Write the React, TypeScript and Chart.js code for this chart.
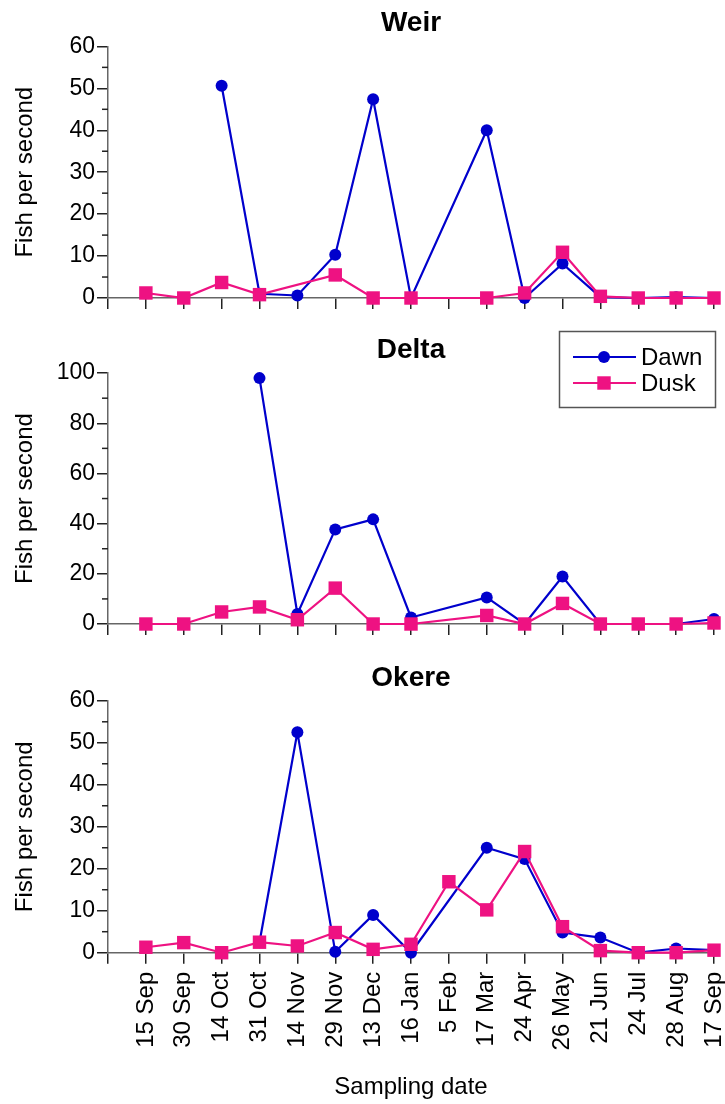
import { useEffect, useRef } from "react";
import { Chart, registerables } from "chart.js";

Chart.register(...registerables);

// Sampling dates shared by all three sites (x axis categories)
const samplingDates = [
  "15 Sep", "30 Sep", "14 Oct", "31 Oct", "14 Nov", "29 Nov", "13 Dec", "16 Jan",
  "5 Feb", "17 Mar", "24 Apr", "26 May", "21 Jun", "24 Jul", "28 Aug", "17 Sep",
];

// Fish per second, one value per sampling date (null = not sampled)
const weirDawn = [null, null, 50.6, 1.0, 0.6, 10.3, 47.4, 0, null, 40.0, 0, 8.2, 0.2, 0, 0.2, 0];
const weirDusk = [1.2, 0, 3.7, 0.8, null, 5.5, 0, 0, null, 0, 1.2, 10.9, 0.4, 0, 0, 0];

const deltaDawn = [null, null, null, 98, 4.0, 37.7, 41.7, 2.6, null, 10.6, 0, 18.9, 0, 0, 0, 2.0];
const deltaDusk = [0, 0, 4.8, 6.8, 1.7, 14.3, 0, 0, null, 3.4, 0, 8.2, 0, 0, 0, 0.4];

const okereDawn = [null, null, null, 2.5, 52.5, 0.2, 9.0, 0, null, 25.0, 22.3, 4.8, 3.6, 0, 1.0, 0.6];
const okereDusk = [1.3, 2.4, 0, 2.5, 1.6, 4.8, 0.8, 2.0, 16.9, 10.2, 24.1, 6.2, 0.5, 0, 0, 0.6];

const FONT = "'Liberation Sans', Arial, Helvetica, sans-serif";
const DAWN_COLOR = "#0000CC";
const DUSK_COLOR = "#EE1282";
const AXIS_COLOR = "#666666";
const TICK_COLOR = "#222222";
const CIRCLE_RADIUS = 6;
const SQUARE_RADIUS = 9.5;
const LINE_WIDTH = 2.2;

const toPoints = (vals: (number | null)[]) => vals.map((v, i) => ({ x: i, y: v }));

// Short unlabelled ticks between the labelled ones on the y axis
const minorTicksPlugin = {
  id: "minorTicks",
  afterDraw(chart: any, _args: any, opts: any) {
    const y = chart.scales.y;
    const ctx = chart.ctx;
    ctx.save();
    ctx.strokeStyle = TICK_COLOR;
    ctx.lineWidth = 1.5;
    for (let v = opts.step; v < y.max; v += opts.step) {
      if (Math.abs(v / opts.major - Math.round(v / opts.major)) < 1e-6) continue;
      const py = y.getPixelForValue(v);
      ctx.beginPath();
      ctx.moveTo(y.right - 6, py);
      ctx.lineTo(y.right, py);
      ctx.stroke();
    }
    ctx.restore();
  },
};

// Boxed series key
const seriesKeyPlugin = {
  id: "seriesKey",
  afterDraw(chart: any, _args: any, opts: any) {
    if (!opts || !opts.show) return;
    const ctx = chart.ctx;
    ctx.save();
    ctx.strokeStyle = "#555555";
    ctx.lineWidth = 1.5;
    ctx.strokeRect(559.5, 11.5, 156, 76);
    const rows = [
      { label: "Dawn", color: DAWN_COLOR, style: "circle", radius: CIRCLE_RADIUS, y: 37 },
      { label: "Dusk", color: DUSK_COLOR, style: "rect", radius: SQUARE_RADIUS, y: 63 },
    ];
    for (const r of rows) {
      ctx.strokeStyle = r.color;
      ctx.lineWidth = LINE_WIDTH;
      ctx.beginPath();
      ctx.moveTo(573, r.y);
      ctx.lineTo(636, r.y);
      ctx.stroke();
      ctx.fillStyle = r.color;
      ctx.beginPath();
      if (r.style === "circle") {
        ctx.arc(604, r.y, r.radius, 0, Math.PI * 2);
      } else {
        const s = r.radius * Math.SQRT1_2;
        ctx.rect(604 - s, r.y - s, 2 * s, 2 * s);
      }
      ctx.fill();
      ctx.fillStyle = "#000";
      ctx.font = `24px ${FONT}`;
      ctx.textBaseline = "middle";
      ctx.textAlign = "left";
      ctx.fillText(r.label, 641, r.y + 1);
    }
    ctx.restore();
  },
};

type PanelProps = {
  title: string;
  dawn: (number | null)[];
  dusk: (number | null)[];
  yMax: number;
  yStep: number;
  yMinor: number;
  top: number;
  height: number;
  titleTop: number;
  xHeight: number;
  showDates?: boolean;
  showKey?: boolean;
};

function Panel(p: PanelProps) {
  const ref = useRef<HTMLCanvasElement | null>(null);

  useEffect(() => {
    if (!ref.current) return;
    const chart = new Chart(ref.current, {
      type: "line",
      data: {
        datasets: [
          {
            label: "Dawn",
            data: toPoints(p.dawn) as any,
            borderColor: DAWN_COLOR,
            backgroundColor: DAWN_COLOR,
            borderWidth: LINE_WIDTH,
            pointStyle: "circle",
            pointRadius: CIRCLE_RADIUS,
            pointBorderWidth: 0,
            spanGaps: true,
            tension: 0,
            order: 1,
            clip: false as any,
          },
          {
            label: "Dusk",
            data: toPoints(p.dusk) as any,
            borderColor: DUSK_COLOR,
            backgroundColor: DUSK_COLOR,
            borderWidth: LINE_WIDTH,
            pointStyle: "rect",
            pointRadius: SQUARE_RADIUS,
            pointBorderWidth: 0,
            spanGaps: true,
            tension: 0,
            order: 0,
            clip: false as any,
          },
        ],
      },
      options: {
        animation: false,
        responsive: false,
        events: [],
        layout: { padding: { top: p.titleTop, right: 11, bottom: 0, left: 0 } },
        plugins: {
          legend: { display: false },
          tooltip: { enabled: false },
          title: {
            display: true,
            text: p.title,
            fullSize: false,
            color: "#000",
            font: { family: FONT, size: 28, weight: "bold" },
            padding: { top: 0, bottom: 6 },
          },
          minorTicks: { step: p.yMinor, major: p.yStep },
          seriesKey: { show: !!p.showKey },
        } as any,
        scales: {
          x: {
            type: "linear",
            min: -1,
            max: 15,
            ticks: {
              stepSize: 1,
              autoSkip: false,
              display: !!p.showDates,
              minRotation: 90,
              maxRotation: 90,
              padding: 8,
              color: "#000",
              font: { family: FONT, size: 24 },
              callback: (v: any) => samplingDates[v as number] ?? "",
            },
            grid: { drawOnChartArea: false, drawTicks: true, tickLength: 11, color: TICK_COLOR, lineWidth: 1.5 },
            border: { color: AXIS_COLOR, width: 1.5 },
            title: {
              display: !!p.showDates,
              text: "Sampling date",
              color: "#000",
              font: { family: FONT, size: 24 },
              padding: { top: 0, bottom: 2 },
            },
            afterFit: (s: any) => {
              s.height = p.xHeight;
              s.paddingLeft = 0;
              s.paddingRight = 0;
            },
          },
          y: {
            min: 0,
            max: p.yMax,
            ticks: {
              stepSize: p.yStep,
              padding: 2,
              color: "#000",
              font: { family: FONT, size: 23 },
            },
            grid: { drawOnChartArea: false, drawTicks: true, tickLength: 11, color: TICK_COLOR, lineWidth: 1.5 },
            border: { color: AXIS_COLOR, width: 1.5 },
            title: {
              display: true,
              text: "Fish per second",
              color: "#000",
              font: { family: FONT, size: 24 },
              padding: { top: 11, bottom: 0 },
            },
            afterFit: (s: any) => {
              s.width = 108;
              s.paddingTop = 0;
              s.paddingBottom = 0;
            },
          },
        },
      },
      plugins: [minorTicksPlugin, seriesKeyPlugin],
    });
    return () => chart.destroy();
  }, []);

  return (
    <canvas
      ref={ref}
      width={725}
      height={p.height}
      style={{ position: "absolute", left: 0, top: p.top, width: 725, height: p.height, display: "block" }}
    />
  );
}

export default function App() {
  return (
    <div style={{ position: "absolute", left: 0, top: 0, width: 725, height: 1104, background: "#fff" }}>
      <Panel title="Weir" dawn={weirDawn} dusk={weirDusk} yMax={60} yStep={10} yMinor={5}
        top={0} height={320} titleTop={6.8} xHeight={22} />
      <Panel title="Delta" dawn={deltaDawn} dusk={deltaDusk} yMax={100} yStep={20} yMinor={10}
        top={320} height={328} titleTop={13.5} xHeight={24} showKey />
      <Panel title="Okere" dawn={okereDawn} dusk={okereDusk} yMax={60} yStep={10} yMinor={5}
        top={648} height={456} titleTop={13.2} xHeight={151.3} showDates />
    </div>
  );
}
